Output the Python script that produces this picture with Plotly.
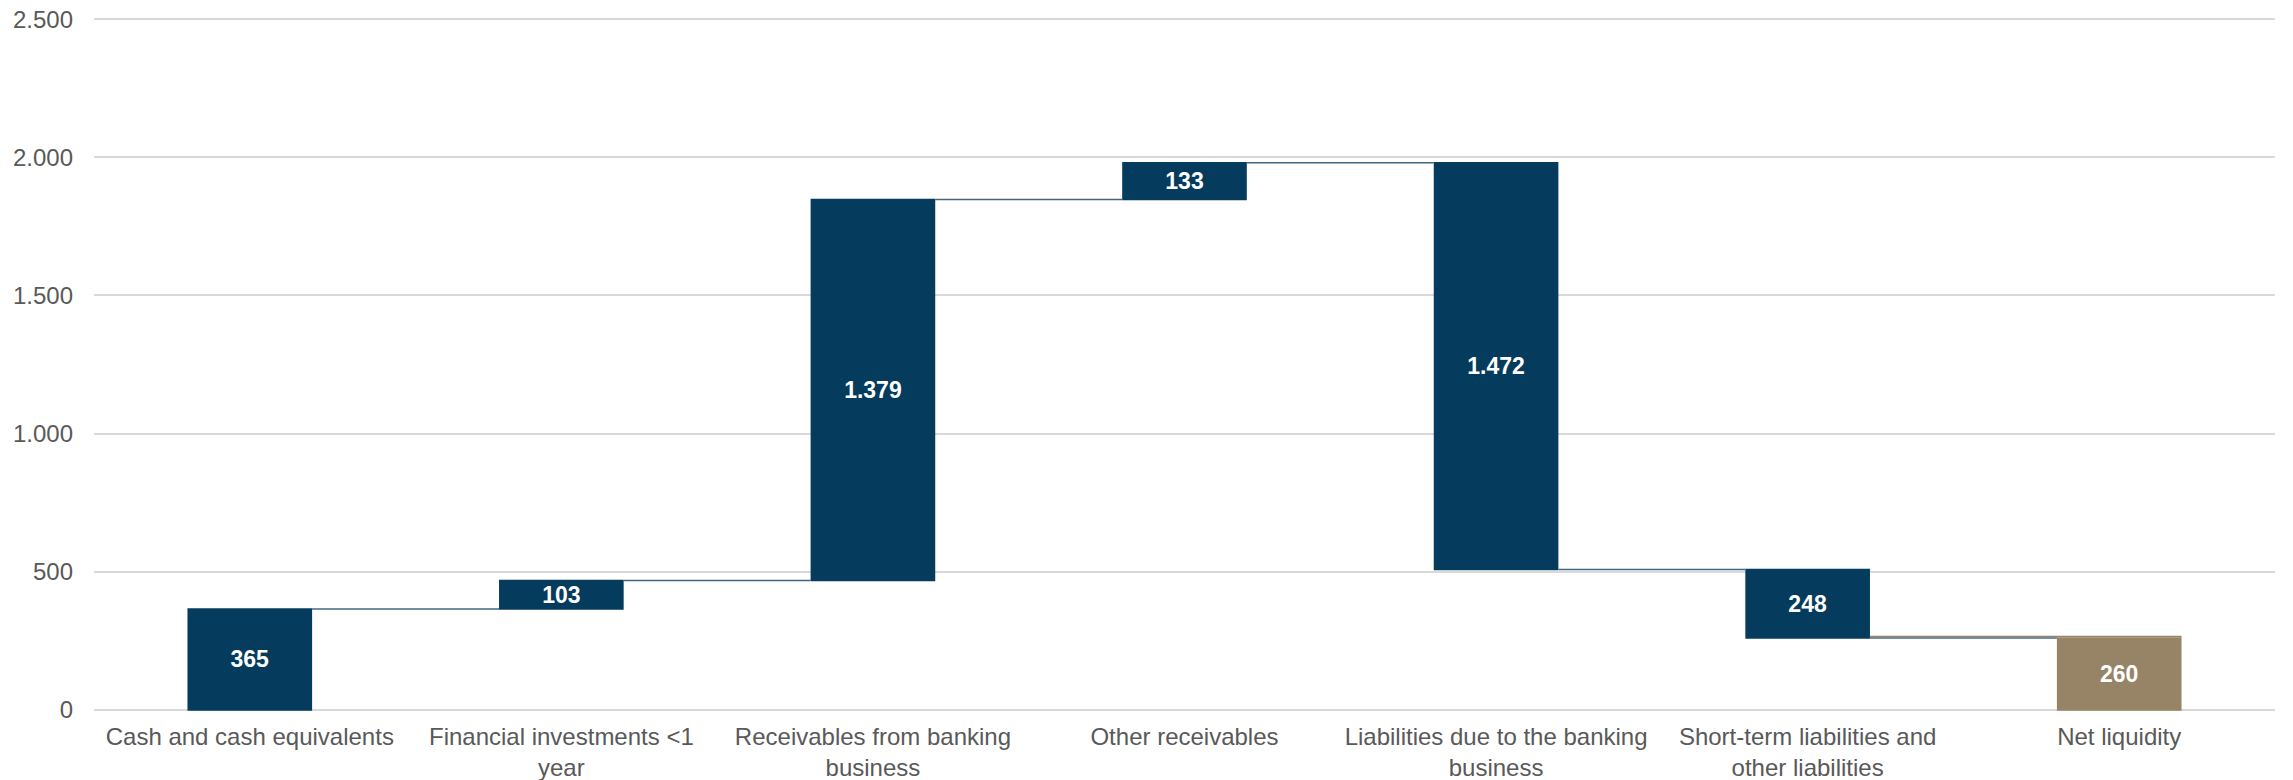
import plotly.graph_objects as go

categories = [
    "Cash and cash equivalents",
    "Financial investments &lt;1<br>year",
    "Receivables from banking<br>business",
    "Other receivables",
    "Liabilities due to the banking<br>business",
    "Short-term liabilities and<br>other liabilities",
    "Net liquidity",
]
values = [365, 103, 1379, 133, -1472, -248, 260]
measures = ["relative"] * 6 + ["total"]
y_ticks = [0, 500, 1000, 1500, 2000, 2500]

NAVY = "#053B5C"
TAN = "#978467"
CONN = "#3F6684"

labels = ["<b>" + f"{abs(v):,}".replace(",", ".") + "</b>" for v in values]

fig = go.Figure()
fig.add_trace(go.Waterfall(
    x=categories,
    y=values,
    measure=measures,
    text=labels,
    textposition="inside",
    insidetextanchor="middle",
    textfont=dict(family="Liberation Sans, Arial", size=23, color="white"),
    constraintext="none",
    increasing=dict(marker=dict(color=NAVY)),
    decreasing=dict(marker=dict(color=NAVY)),
    totals=dict(marker=dict(color=TAN)),
    connector=dict(line=dict(color=CONN, width=1.5), mode="between"),
    hoverinfo="skip",
))

# last connector in tan, computed from the data (spans over the total bar top)
cum = sum(values[:-1])
fig.add_trace(go.Scatter(
    x=[5 + 0.2, 6 + 0.2],
    y=[cum + 6, cum + 6],
    mode="lines",
    line=dict(color=TAN, width=1.5),
    xaxis="x2",
    hoverinfo="skip",
    showlegend=False,
))

fig.update_layout(
    width=2293,
    height=780,
    margin=dict(l=94, r=18, t=18, b=69),
    paper_bgcolor="white",
    plot_bgcolor="white",
    showlegend=False,
    separators=",.",
    waterfallgap=0.6,
    uniformtext=dict(minsize=23, mode="show"),
    font=dict(family="Liberation Sans, Arial", size=24, color="#595959"),
    yaxis=dict(
        range=[-4, 2504],
        tickvals=y_ticks,
        tickformat=",d",
        showgrid=True,
        gridcolor="#D9D9D9",
        gridwidth=1.5,
        zeroline=False,
        showline=False,
        ticks="",
        automargin=False,
        ticklabelstandoff=20,
        tickfont=dict(size=24, color="#595959"),
    ),
    xaxis=dict(
        showgrid=False,
        showline=False,
        zeroline=False,
        ticks="",
        automargin=False,
        ticklabelstandoff=9,
        tickfont=dict(size=24, color="#595959"),
    ),
    xaxis2=dict(
        range=[-0.5, 6.5],
        overlaying="x",
        visible=False,
    ),
)

fig.write_html("out.html")
